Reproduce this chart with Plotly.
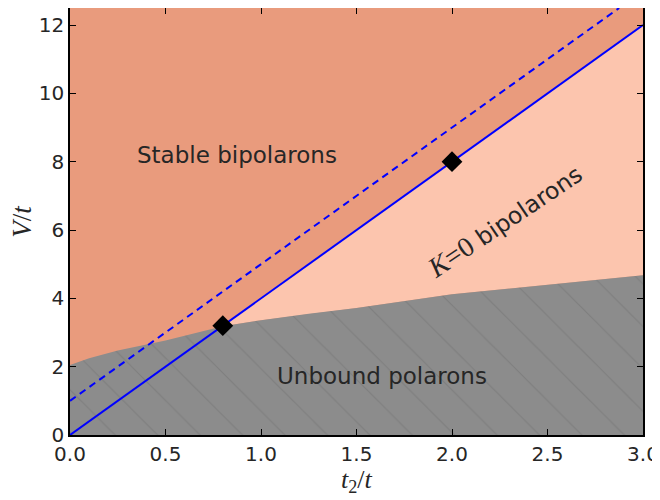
import plotly.graph_objects as go

# Phase boundary (unbound polarons below this curve)
boundary_x = [0.0, 0.1, 0.25, 0.5, 0.8, 1.0, 1.25, 1.5, 2.0, 2.5, 3.0]
boundary_y = [2.05, 2.25, 2.47, 2.77, 3.18, 3.36, 3.55, 3.72, 4.12, 4.40, 4.68]

# Solid line V = 4 t2 and dashed V = 4 t2 + 1
solid_x = [0.0, 3.0]
solid_y = [0.0, 12.0]
dashed_x = [0.0, 2.875]
dashed_y = [1.0, 12.5]

# Diamond markers
marker_x = [0.8, 2.0]
marker_y = [3.2, 8.0]

# Region labels
labels = ["Stable bipolarons", "Unbound polarons"]
label_x = [0.874, 1.634]
label_y = [8.2, 1.72]

x_ticks = [0, 0.5, 1, 1.5, 2, 2.5, 3]
y_ticks = [0, 2, 4, 6, 8, 10, 12]

DARK = "#e99b7d"
LIGHT = "#fcc5ae"
GRAY = "#8c8c8c"
TXT = "#262626"

fig = go.Figure()

# light region: between solid line and boundary for x >= 0.8
i0 = boundary_x.index(0.8)
bx = boundary_x[i0:]
by = boundary_y[i0:]
poly_x = [marker_x[0], solid_x[1]] + bx[::-1]
poly_y = [marker_y[0], solid_y[1]] + by[::-1]
fig.add_trace(go.Scatter(x=poly_x, y=poly_y, mode="lines", fill="toself",
                         fillcolor=LIGHT, line=dict(width=0), hoverinfo="skip",
                         showlegend=False))

# gray unbound region with hatching
fig.add_trace(go.Scatter(x=boundary_x, y=boundary_y, mode="lines", fill="tozeroy",
                         fillcolor=GRAY, line=dict(width=0, color=GRAY),
                         fillpattern=dict(shape="\\", bgcolor=GRAY, fgcolor="#707070",
                                          size=30, solidity=0.04),
                         hoverinfo="skip", showlegend=False))

fig.add_trace(go.Scatter(x=dashed_x, y=dashed_y, mode="lines",
                         line=dict(color="#0000ff", width=2, dash="7px,5px"),
                         showlegend=False))
fig.add_trace(go.Scatter(x=solid_x, y=solid_y, mode="lines",
                         line=dict(color="#0000ff", width=2), showlegend=False))
fig.add_trace(go.Scatter(x=marker_x, y=marker_y, mode="markers",
                         marker=dict(symbol="diamond", size=16, color="black"),
                         showlegend=False))

for t, x, y in zip(labels, label_x, label_y):
    fig.add_annotation(x=x, y=y, text=t, showarrow=False,
                       font=dict(family="DejaVu Sans", size=23, color=TXT))

fig.add_annotation(x=2.277, y=6.27, showarrow=False, textangle=-34,
                   text='<span style="font-family:Liberation Serif;font-size:28px"><i>K</i>=0</span> bipolarons',
                   font=dict(family="DejaVu Sans", size=23.5, color=TXT))

# axis titles
fig.add_annotation(xref="paper", yref="paper", x=0.5, y=-0.108, yanchor="middle",
                   showarrow=False,
                   text="<i>t</i><sub>2</sub>/<i>t</i>",
                   font=dict(family="Liberation Serif", size=26, color=TXT))
fig.add_annotation(xref="paper", yref="paper", x=-0.085, y=0.5, xanchor="center",
                   yanchor="middle", showarrow=False, textangle=-90,
                   text="<i>V</i>/<i>t</i>",
                   font=dict(family="Liberation Serif", size=27, color=TXT))

axis_common = dict(showgrid=False, zeroline=False, showline=True, linecolor="black",
                   linewidth=1.5, mirror="ticks", ticks="inside", ticklen=6,
                   tickwidth=1, tickcolor="black", automargin=False,
                   tickfont=dict(family="DejaVu Sans", size=20, color=TXT))

fig.update_xaxes(range=[0, 3], tickvals=x_ticks, tickformat=".1f", **axis_common)
fig.update_yaxes(range=[0, 12.5], tickvals=y_ticks, **axis_common)

fig.update_layout(width=660, height=500, plot_bgcolor=DARK, paper_bgcolor="white",
                  margin=dict(l=62, r=25, t=0, b=72.5))

fig.write_html("out.html")
